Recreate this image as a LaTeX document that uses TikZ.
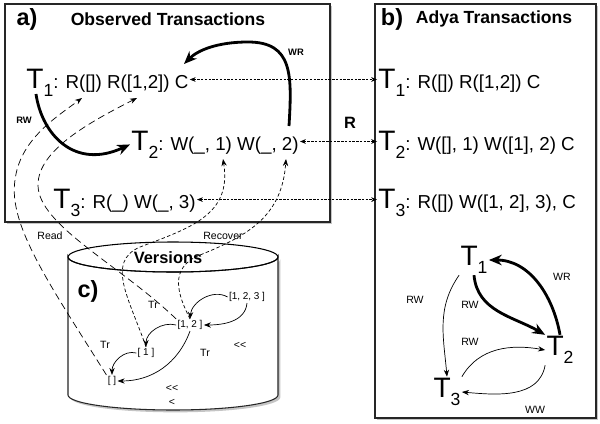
\documentclass[tikz,border=0pt]{standalone}
\usepackage{fontspec}
\setmainfont{Liberation Sans}
\usetikzlibrary{
  arrows.meta,
  shadows}

\newcommand{\Tsub}[1]{%
  {\fontsize{24}{24}\selectfont T}%
  \raisebox{-7pt}{\fontsize{15}{15}\selectfont #1}}

\begin{document}
\begin{tikzpicture}[x=0.03cm,y=-0.03cm]
\tikzset{
  panel/.style={
    draw=black!85,
    line width=0.9pt,
    fill=white,
    drop shadow={shadow xshift=2pt,shadow yshift=-2pt,opacity=0.45}},
  txline/.style={
    anchor=base west,
    inner sep=1pt,
    font=\fontsize{16}{17}\selectfont},
  titletext/.style={font=\bfseries\fontsize{15}{16}\selectfont},
  tag/.style={font=\bfseries\fontsize{20}{20}\selectfont},
  bigbold/.style={font=\bfseries\fontsize{14}{14}\selectfont},
  smallbold/.style={font=\bfseries\fontsize{8}{9}\selectfont},
  elabel/.style={font=\fontsize{9}{10}\selectfont},
  vlabel/.style={
    inner sep=1pt,
    font=\fontsize{8.5}{10}\selectfont},
  gnode/.style={inner sep=1pt},
  linkarrow/.style={
    draw,
    line width=0.5pt,
    dash pattern=on 2pt off 1.2pt,
    {Stealth[length=5pt,width=4pt]}-{Stealth[length=5pt,width=4pt]}},
  heavyarrow/.style={
    draw,
    line width=2.4pt,
    -{Stealth[length=11pt,width=9pt]}},
  edgearrow/.style={
    draw,
    line width=0.6pt,
    -{Stealth[length=6pt,width=4.5pt]}},
  readline/.style={
    draw,
    line width=0.6pt,
    dash pattern=on 6pt off 3.5pt,
    -{Stealth[length=6pt,width=4.5pt]}},
  recoverline/.style={
    draw,
    line width=0.6pt,
    dash pattern=on 3pt off 2pt,
    -{Stealth[length=6pt,width=4.5pt]}},
}

\fill[white] (0,0) rectangle (600,423);
\useasboundingbox (0,0) rectangle (600,423);

\path[panel] (5,4) rectangle (330,222);
\path[panel] (375,4) rectangle (596,418);

\path[panel]
(68,257) -- (68,395)
arc[start angle=180,end angle=0,x radius=105,y radius=15]
-- (278,257)
arc[start angle=0,end angle=180,x radius=105,y radius=15]
-- cycle;
\draw[line width=0.9pt] (173,257) ellipse[x radius=105,y radius=15];

\node[tag] (taga) at (27,19) {a)};
\node[titletext] (tita) at (168,19) {Observed Transactions};
\node[tag] (tagb) at (392,19) {b)};
\node[titletext] (titb) at (494,19) {Adya Transactions};
\node[tag] (tagc) at (88,291) {c)};
\node[bigbold] (vtitle) at (168,258) {Versions};
\node[bigbold] (rlabel) at (350,123) {R};

\node[txline] (a1) at (25,88) {\Tsub{1}: R([]) R([1,2]) C};
\node[txline] (a2) at (130,150) {\Tsub{2}: W(\_, 1) W(\_, 2)};
\node[txline] (a3) at (52,208) {\Tsub{3}: R(\_) W(\_, 3)};
\node[txline] (b1) at (377,88) {\Tsub{1}: R([]) R([1,2]) C};
\node[txline] (b2) at (377,150) {\Tsub{2}: W([], 1) W([1], 2) C};
\node[txline] (b3) at (377,208) {\Tsub{3}: R([]) W([1, 2], 3), C};

\path[linkarrow] ([yshift=2.5pt]a1.east) -- ([yshift=2.5pt]b1.west);
\path[linkarrow] ([yshift=2.5pt]a2.east) -- ([yshift=2.5pt]b2.west);
\path[linkarrow] ([yshift=2.5pt]a3.east) -- ([yshift=2.5pt]b3.west);

\coordinate (t1foot) at (36,94);
\coordinate (ctop) at (184,64);
\coordinate (w2foot) at (289,126);
\coordinate (r0) at (82,98);
\coordinate (r12) at (137,98);
\coordinate (w1) at (223,159);
\coordinate (w2) at (286,159);

\path[heavyarrow] (w2foot)
  .. controls (292,75) and (293,42) .. (248,42)
  .. controls (218,42) and (198,50) .. (ctop);
\path[heavyarrow] (t1foot)
  .. controls (42,135) and (75,170) .. (a2.west);
\node[smallbold] (wra) at (296,52) {WR};
\node[smallbold] (rwa) at (24,120) {RW};

\node[vlabel] (v123) at (247,297) {[1, 2, 3 ]};
\node[vlabel] (v12) at (190,325) {[1, 2 ]};
\node[vlabel] (v1) at (146,353) {[ 1 ]};
\node[vlabel] (v0) at (112,381) {[ ]};

\path[edgearrow] (v123.west) to[out=150,in=85] (v12.north);
\path[edgearrow] (v123.south) to[out=-95,in=0] (v12.east);
\path[edgearrow] (v12.west) to[out=165,in=90] (v1.north);
\path[edgearrow] (v12.south) to[out=-110,in=0] (v0.east);
\path[edgearrow] (v1.west) to[out=165,in=90] (v0.north);

\node[elabel] (tr1) at (153,305) {Tr};
\node[elabel] (tr2) at (105,345) {Tr};
\node[elabel] (tr3) at (205,353) {Tr};
\node[elabel] (lt1) at (240,345) {<{}<};
\node[elabel] (lt2) at (172,388) {<{}<};
\node[elabel] (lt3) at (172,402) {<};

\path[readline] (v0.north west)
  .. controls (50,285) and (8,225) .. (15,180)
  .. controls (20,140) and (55,118) .. (r0);
\path[readline] (v12.north west)
  .. controls (120,265) and (38,225) .. (38,185)
  .. controls (38,150) and (90,122) .. (r12);
\path[recoverline] (v1.north)
  .. controls (130,300) and (105,262) .. (140,247)
  .. controls (190,228) and (232,215) .. (w1);
\path[recoverline] (v12.north)
  .. controls (178,295) and (168,268) .. (200,255)
  .. controls (250,235) and (282,215) .. (w2);
\node[elabel] (readlbl) at (50,236) {Read};
\node[elabel] (reclbl) at (223,236) {Recover};

\node[gnode] (g1) at (474,260) {\Tsub{1}};
\node[gnode] (g2) at (560,350) {\Tsub{2}};
\node[gnode] (g3) at (447,392) {\Tsub{3}};

\path[heavyarrow] (g2.north) to[out=100,in=0] (g1.east);
\path[heavyarrow] (g1.south) to[out=-85,in=150] (g2.north west);
\path[edgearrow] (g1.south west) to[out=-125,in=95] (g3.north);
\path[edgearrow] (g3.north east) to[out=60,in=170] (g2.west);
\path[edgearrow] (g2.south west) to[out=-100,in=-5] (g3.east);

\node[elabel] (wrb) at (562,277) {WR};
\node[elabel] (rwb1) at (470,305) {RW};
\node[elabel] (rwb2) at (415,300) {RW};
\node[elabel] (rwb3) at (470,342) {RW};
\node[elabel] (wwb) at (535,410) {WW};
\end{tikzpicture}
\end{document}
